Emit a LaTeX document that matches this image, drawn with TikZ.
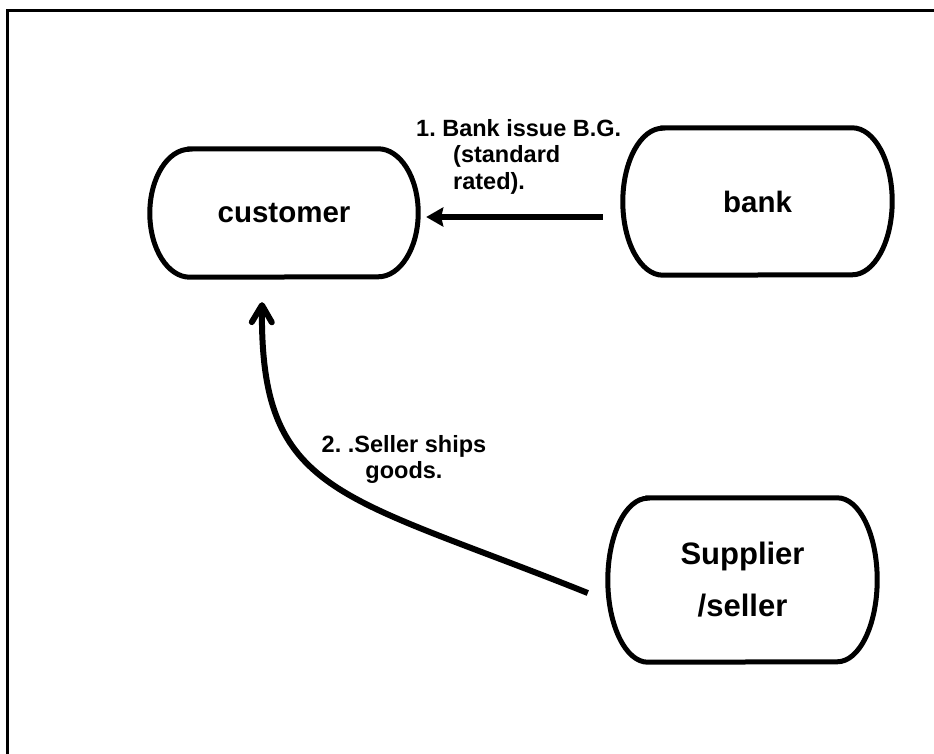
\documentclass[tikz,border=0pt]{standalone}
\usepackage{fontspec}
\setmainfont{Liberation Sans}
\usepackage{tikz}
\usetikzlibrary{arrows.meta}
\frenchspacing

\begin{document}
\begin{tikzpicture}[x=1pt,y=1pt,
  party/.style={inner sep=0pt, align=center,
       font=\fontsize{29.5}{34}\selectfont\bfseries},
  note/.style={inner sep=0pt,
       font=\fontsize{23.5}{26.5}\selectfont\bfseries},
  outline/.style={line width=5pt},
  flow/.style={line width=6pt}]

\useasboundingbox (0,0) rectangle (934,-754);
\draw[line width=3pt] (7.5,-754) |- (934,-10.5);

\node[party, minimum width=268pt, minimum height=128pt] (cust) at (284,-213) {customer};
\node[party, minimum width=269pt, minimum height=147pt] (bank) at (757.5,-201.5) {bank};
\node[party, minimum width=269pt, minimum height=164pt,
      font=\fontsize{31}{52}\selectfont\bfseries] (supp) at (742.5,-580) {Supplier\\/seller};

% outlines with flattened round ends
\foreach \n/\ry in {cust/64,bank/73.5,supp/82}
  \draw[outline] ([xshift=40pt]\n.north west) -- ([xshift=-40pt]\n.north east)
    arc[start angle=90,end angle=-90,x radius=40,y radius=\ry]
    -- ([xshift=40pt]\n.south west)
    arc[start angle=270,end angle=90,x radius=40,y radius=\ry] -- cycle;

\draw[flow, -{Stealth[length=17pt,width=19pt,inset=2pt]}]
  ([xshift=-20pt,yshift=-15.5pt]bank.west) -- ([xshift=8pt,yshift=-4pt]cust.east);
\node[note, anchor=north west, align=left] (bgnote) at (416,-119)
  {1. Bank issue B.G.\\\hspace*{37pt}(standard\\\hspace*{37pt}rated).};

\draw[flow, -{Straight Barb[length=17pt,width=20pt,round]}]
  ([xshift=-20pt,yshift=-13pt]supp.west) .. controls (338,-493) and (260,-495)
  .. ([xshift=-22pt,yshift=-25pt]cust.south);
\node[note, anchor=north, align=center] (shipnote) at (404,-435)
  {2. .Seller ships\\goods.};

\end{tikzpicture}
\end{document}
